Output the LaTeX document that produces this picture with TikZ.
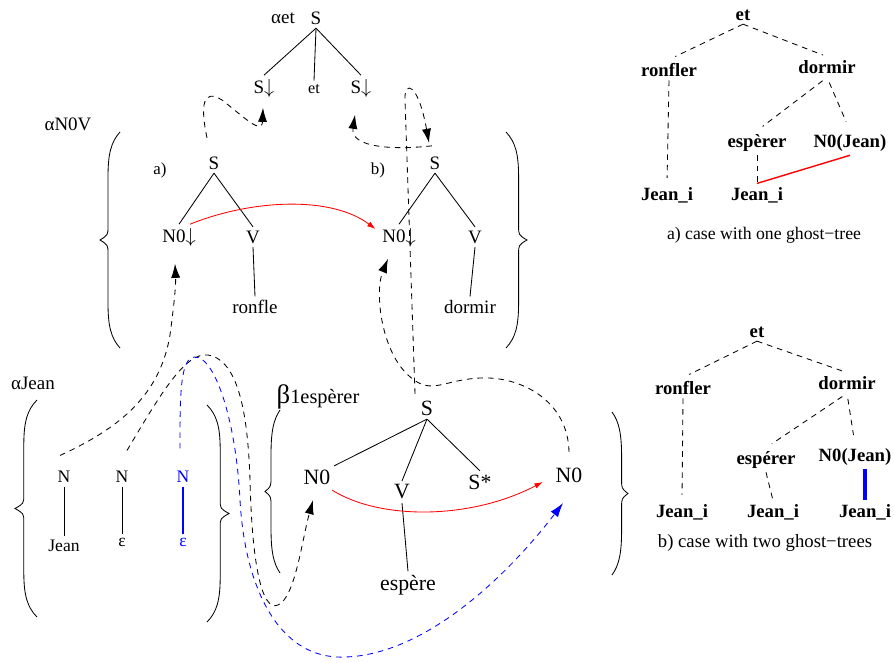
\documentclass[tikz,border=0pt]{standalone}
\usepackage{fontspec}
\setmainfont{Liberation Serif}
\usetikzlibrary{arrows.meta}

\newcommand{\curlybr}[4]{%
  \draw[brc] (#1,#2) .. controls ({#1+0.45*(#4)},{#2+10}) and ({#1+0.6*(#4)},{#2+22}) .. ({#1+0.6*(#4)},{#2+45})
    -- ({#1+0.6*(#4)},{(#2+#3)/2-14}) .. controls ({#1+0.6*(#4)},{(#2+#3)/2-5}) .. ({#1+(#4)},{(#2+#3)/2})
    .. controls ({#1+0.6*(#4)},{(#2+#3)/2+5}) .. ({#1+0.6*(#4)},{(#2+#3)/2+14})
    -- ({#1+0.6*(#4)},{#3-45}) .. controls ({#1+0.6*(#4)},{#3-22}) and ({#1+0.45*(#4)},{#3-10}) .. (#1,#3);
}

\begin{document}
\begin{tikzpicture}[x=0.025cm,y=-0.025cm,>={Latex[length=10pt,width=6.5pt]},
  every node/.style={inner sep=2.5pt},
  tr/.style={font=\fontsize{13.5}{16}\selectfont},
  jt/.style={font=\fontsize{12.5}{15}\selectfont},
  bt/.style={font=\fontsize{15.5}{18}\selectfont},
  gt/.style={font=\fontsize{13.3}{16}\selectfont\bfseries},
  captxt/.style={font=\fontsize{12.6}{15}\selectfont},
  edge/.style={line width=0.6pt},
  gdash/.style={dash pattern=on 4pt off 3.5pt,line width=0.6pt},
  subst/.style={gdash,->},
  link/.style={red,line width=0.6pt,-{Latex[length=6pt,width=4pt]}},
  brc/.style={line width=0.6pt}]
  \useasboundingbox (0,0) rectangle (894,663);

  \node[tr] (etlab) at (283,18) {αet};
  \node[tr] (etS) at (316,18) {S};
  \node[tr] (etSl) at (264,88) {S$\downarrow$};
  \node[font=\fontsize{11.5}{14}\selectfont] (etet) at (314,89) {et};
  \node[tr] (etSr) at (361,88) {S$\downarrow$};
  \draw[edge] (etS.south) -- (etSl.north);
  \draw[edge] (etS.south) -- (etet.north);
  \draw[edge] (etS.south) -- (etSr.north);

  \node[tr] (nvlab) at (68,124) {αN0V};
  \curlybr{120}{132}{348}{-20}
  \curlybr{506}{132}{348}{21}
  \node[font=\fontsize{12}{14}\selectfont] (alab) at (160,170) {a)};
  \node[tr] (aS) at (214,163) {S};
  \node[tr] (aN0) at (179,237) {N0$\downarrow$};
  \node[tr] (aV) at (253,237) {V};
  \node[tr] (aron) at (255,307) {ronfle};
  \draw[edge] (aS.south) -- (aN0.north);
  \draw[edge] (aS.south) -- (aV.north);
  \draw[edge] (aV.south) -- (aron.north);
  \node[font=\fontsize{12}{14}\selectfont] (blab) at (378,170) {b)};
  \node[tr] (bS) at (435,163) {S};
  \node[tr] (bN0) at (399,237) {N0$\downarrow$};
  \node[tr] (bV) at (475,237) {V};
  \node[tr] (bdor) at (470,307) {dormir};
  \draw[edge] (bS.south) -- (bN0.north);
  \draw[edge] (bS.south) -- (bV.north);
  \draw[edge] (bV.south) -- (bdor.north);

  \node[tr] (jlab) at (33,383) {αJean};
  \curlybr{37}{400}{617}{-22}
  \curlybr{207}{405}{622}{22}
  \node[jt] (jN) at (64,477) {N};
  \node[jt] (jJean) at (64,546) {Jean};
  \node[jt] (eN) at (122,477) {N};
  \node[jt] (eEps) at (122,542) {ε};
  \node[jt,blue] (gN) at (183,477) {N};
  \node[jt,blue] (gEps) at (183,542) {ε};
  \draw[edge] (jN) -- (jJean);
  \draw[edge] (eN) -- (eEps);
  \draw[edge,blue,line width=1.1pt] (gN) -- (gEps);

  \node[font=\fontsize{14.5}{18}\selectfont] (plab) at (318,397) {{\fontsize{19}{20}\selectfont β}1espèrer};
  \curlybr{280}{410}{573}{-15}
  \curlybr{612}{412}{575}{16}
  \node[bt] (pS) at (427,408) {S};
  \node[bt] (pN0) at (317,477) {N0};
  \node[bt] (pV) at (402,492) {V};
  \node[bt] (pSs) at (480,482) {S*};
  \node[bt] (pN0r) at (569,475) {N0};
  \node[bt] (pesp) at (408,585) {espère};
  \draw[edge] (pS.south) -- (pN0.north east);
  \draw[edge] (pS.south) -- (pV.north);
  \draw[edge] (pS.south) -- (pSs.north);
  \draw[edge] (pV.south) -- (pesp.north);

  \draw[subst] ([shift={(-7,-15)}]aS.north) .. controls (200,105) and (203,88) .. (222,100)
    .. controls (245,118) and (262,135) .. ([shift={(-1,7)}]etSl.south);
  \draw[subst] ([shift={(-3,-7)}]bS.north) .. controls (395,150) and (350,148) .. ([shift={(-6,14)}]etSr.south);
  \draw[subst] ([shift={(-12,-3)}]pS.north) -- (405,100) .. controls (404,80) and (418,82) .. ([shift={(-6,-10)}]bS.north);
  \draw[subst] ([shift={(0,-12)}]pN0r.north) .. controls (568,400) and (520,376) .. (480,378)
    .. controls (440,380) and (430,398) .. (405,372) .. controls (380,345) and (375,290) .. ([shift={(-11,9)}]bN0.south);
  \draw[subst] ([shift={(-4,-12)}]jN.north) .. controls (120,428) and (160,395) .. (170,335)
    .. controls (174,305) and (176,285) .. ([shift={(-4,14)}]aN0.south);
  \draw[subst] ([shift={(5,-17)}]eN.north) .. controls (160,395) and (185,352) .. (208,355)
    .. controls (240,360) and (248,420) .. (250,480) .. controls (252,565) and (262,612) .. (278,605)
    .. controls (295,598) and (302,540) .. ([shift={(-4,12)}]pN0.south);
  \draw[subst,blue] ([shift={(-3,-19)}]gN.north) .. controls (180,395) and (180,357) .. (195,357)
    .. controls (215,357) and (236,420) .. (240,500) .. controls (245,590) and (280,660) .. (345,657)
    .. controls (420,655) and (500,585) .. ([shift={(-6,17)}]pN0r.south);
  \draw[link] ([shift={(11,0)}]aN0.north) .. controls (250,200) and (330,195) .. ([shift={(-3,-8)}]bN0.west);
  \draw[link] ([shift={(-2,2)}]pN0.south east) .. controls (380,520) and (470,520) .. ([shift={(-9,7)}]pN0r.west);

  \node[gt] (ta_et) at (743,15) {et};
  \node[gt] (ta_ron) at (669,70) {ronfler};
  \node[gt] (ta_dor) at (827,67) {dormir};
  \node[gt] (ta_esp) at (757,143) {espèrer};
  \node[gt] (ta_n0) at (850,143) {N0(Jean)};
  \node[gt] (ta_ji1) at (667,195) {Jean\_i};
  \node[gt] (ta_ji2) at (757,195) {Jean\_i};
  \node[captxt] (ta_cap) at (764,235) {a) case with one ghost−tree};
  \draw[gdash,shorten >=5pt] (ta_et.south) -- (ta_ron.north);
  \draw[gdash,shorten >=3pt] (ta_et.south) -- (ta_dor.north);
  \draw[gdash,shorten >=4pt] (ta_ron.south) -- (ta_ji1.north);
  \draw[gdash,shorten <=4pt,shorten >=5pt] (ta_dor.south) -- (ta_esp.north);
  \draw[gdash,shorten <=4pt,shorten >=7pt] (ta_dor.south) -- (ta_n0.north);
  \draw[gdash] (ta_esp.south) -- (ta_ji2.north);
  \draw[red,line width=1pt] (ta_ji2.north) -- (ta_n0.south);

  \node[gt] (tb_et) at (757,332) {et};
  \node[gt] (tb_ron) at (683,388) {ronfler};
  \node[gt] (tb_dor) at (847,383) {dormir};
  \node[gt] (tb_esp) at (766,460) {espérer};
  \node[gt] (tb_n0) at (855,457) {N0(Jean)};
  \node[gt] (tb_ji1) at (682,512) {Jean\_i};
  \node[gt] (tb_ji2) at (773,512) {Jean\_i};
  \node[gt] (tb_ji3) at (865,512) {Jean\_i};
  \node[captxt,font=\fontsize{13.3}{15}\selectfont] (tb_cap) at (765,543) {b) case with two ghost−trees};
  \draw[gdash,shorten >=5pt] (tb_et.south) -- (tb_ron.north);
  \draw[gdash,shorten >=3pt] (tb_et.south) -- (tb_dor.north);
  \draw[gdash,shorten >=4pt] (tb_ron.south) -- (tb_ji1.north);
  \draw[gdash,shorten <=4pt,shorten >=5pt] (tb_dor.south) -- (tb_esp.north);
  \draw[gdash,shorten <=4pt,shorten >=7pt] (tb_dor.south) -- (tb_n0.north);
  \draw[gdash] (tb_esp.south) -- (tb_ji2.north);
  \draw[blue,line width=2.2pt] (tb_ji3.north |- tb_n0.south) -- (tb_ji3.north);
\end{tikzpicture}
\end{document}
